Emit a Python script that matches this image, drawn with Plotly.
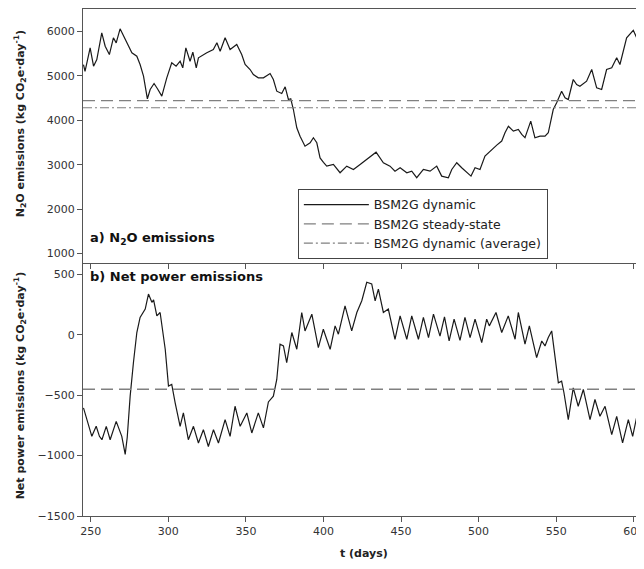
import plotly.graph_objects as go

# ---- data ----
t_n2o = [245.3, 246.3, 249.6, 251.8, 253.9, 257.1, 259.3, 262.0, 264.6, 266.4,
         268.9, 272.2, 276.5, 279.7, 281.8, 284.0, 286.5, 288.3, 290.8, 293.0,
         295.8, 299.0, 302.2, 305.0, 307.6, 309.3, 311.3, 314.0, 315.8, 318.0,
         319.4, 324.8, 329.0, 331.3, 333.4, 336.6, 339.8, 344.1, 347.3, 349.5,
         352.7, 354.8, 358.0, 361.3, 365.6, 367.7, 369.9, 373.1, 375.3, 377.4,
         378.9, 380.6, 382.8, 384.9, 388.1, 391.4, 393.5, 395.7, 397.8, 400.0,
         402.1, 406.4, 410.7, 415.0, 419.3, 423.6, 427.9, 433.9, 438.6, 442.9,
         446.1, 449.4, 453.7, 456.9, 460.1, 464.4, 468.7, 473.0, 476.2, 480.5,
         482.7, 485.9, 489.1, 492.3, 495.1, 497.7, 500.9, 504.1, 508.4, 511.7,
         514.9, 517.0, 519.2, 522.4, 525.6, 527.8, 529.9, 533.6, 536.3, 539.6,
         542.8, 544.9, 548.1, 550.3, 553.5, 555.7, 557.8, 561.0, 563.2, 565.3,
         569.6, 572.9, 576.1, 579.3, 582.5, 585.8, 589.0, 591.1, 595.4, 599.7,
         602.9, 606.6]
n2o = [5250, 5100, 5627, 5214, 5364, 5964, 5663, 5476, 5852, 5739,
       6054, 5814, 5515, 5438, 5252, 4989, 4481, 4690, 4825, 4706,
       4540, 4953, 5290, 5214, 5326, 5178, 5627, 5326, 5528, 5178,
       5402, 5515, 5589, 5739, 5551, 5852, 5589, 5701, 5476, 5252,
       5139, 5027, 4953, 4953, 5050, 4915, 4652, 4600, 4750, 4465,
       4481, 4240, 3830, 3641, 3416, 3492, 3605, 3492, 3150, 3050,
       2967, 3005, 2818, 2967, 2892, 3005, 3117, 3281, 3043, 2967,
       2854, 2931, 2818, 2854, 2706, 2892, 2854, 2967, 2742, 2706,
       2892, 3043, 2931, 2818, 2742, 2931, 2892, 3191, 3342, 3440,
       3530, 3717, 3865, 3753, 3791, 3679, 3605, 3978, 3605, 3641,
       3641, 3717, 4240, 4391, 4652, 4503, 4465, 4915, 4802, 4764,
       4876, 5139, 4728, 4690, 5139, 5178, 5402, 5252, 5852, 6022,
       5775, 5701]

t_power = [245.3, 248.5, 250.7, 253.5, 255.6, 257.2, 260.0, 262.5, 266.4, 270.0,
           272.2, 273.5, 275.4, 277.5, 279.7, 281.8, 285.1, 287.2, 289.4, 290.5,
           292.6, 294.7, 298.0, 300.1, 302.2, 304.4, 307.6, 309.7, 312.9, 316.2,
           319.4, 322.6, 325.8, 329.1, 332.3, 336.6, 339.8, 343.0, 346.3, 350.6,
           353.8, 358.0, 361.3, 364.5, 367.7, 369.9, 372.0, 374.2, 376.3, 379.6,
           382.8, 386.0, 388.1, 392.5, 396.7, 399.9, 404.3, 407.5, 409.6, 413.9,
           418.2, 421.5, 424.7, 427.9, 431.1, 433.3, 435.4, 438.6, 441.8, 446.1,
           449.4, 453.7, 456.9, 461.2, 464.4, 467.7, 470.9, 475.1, 478.0, 481.0,
           484.2, 488.0, 491.2, 494.5, 497.7, 502.0, 505.2, 506.9, 511.2, 514.9,
           519.1, 523.5, 525.6, 529.9, 532.7, 537.4, 540.7, 542.8, 544.9, 547.1,
           549.2, 551.4, 553.5, 555.0, 557.8, 561.0, 564.2, 567.5, 571.8, 575.0,
           578.2, 581.5, 585.8, 589.0, 592.8, 596.5, 599.3, 602.9, 606.6]
power = [-604, -757, -840, -757, -840, -868, -757, -868, -716, -840,
         -990, -850, -507, -230, 20, 145, 214, 339, 270, 290,
         158, 186, -119, -424, -410, -562, -757, -646, -868, -757,
         -895, -785, -924, -785, -895, -701, -840, -591, -757, -646,
         -812, -646, -770, -555, -507, -369, -77, -91, -230, 20,
         -119, 186, 33, 172, -105, 47, -119, 75, 6, 241,
         33, 186, 283, 436, 422, 283, 380, 186, 214, -36,
         158, -36, 158, -36, 145, -22, 172, -10, 150, -50,
         131, -45, 145, -22, 131, -63, 131, 75, 186, 20,
         158, -36, 186, -77, 75, -188, -50, -91, -22, 33,
         -202, -396, -383, -479, -701, -438, -591, -452, -701, -535,
         -674, -591, -826, -674, -895, -701, -840, -618, -757]

t_span = [245.0, 606.6]
n2o_steady = 4440
n2o_dyn_avg = 4280
power_steady = -450

n2o_ticks = [1000, 2000, 3000, 4000, 5000, 6000]
power_ticks = [-1500, -1000, -500, 0, 500]
t_ticks = [250, 300, 350, 400, 450, 500, 550, 600]

LINE = '#1a1a1a'
REF = '#808080'
AX = '#555555'
FONT = 'DejaVu Sans, Arial, sans-serif'

fig = go.Figure()
fig.add_trace(go.Scatter(x=t_n2o, y=n2o, mode='lines', name='BSM2G dynamic',
                         line=dict(color=LINE, width=1.2), xaxis='x2', yaxis='y2'))
fig.add_trace(go.Scatter(x=t_span, y=[n2o_steady] * 2, mode='lines', name='BSM2G steady-state',
                         line=dict(color=REF, width=1.3, dash='12px,6px'), xaxis='x2', yaxis='y2'))
fig.add_trace(go.Scatter(x=t_span, y=[n2o_dyn_avg] * 2, mode='lines', name='BSM2G dynamic (average)',
                         line=dict(color=REF, width=1.1, dash='9px,3px,2px,3px'), xaxis='x2', yaxis='y2'))
fig.add_trace(go.Scatter(x=t_power, y=power, mode='lines', showlegend=False,
                         line=dict(color=LINE, width=1.2), xaxis='x', yaxis='y'))
fig.add_trace(go.Scatter(x=t_span, y=[power_steady] * 2, mode='lines', showlegend=False,
                         line=dict(color=REF, width=1.3, dash='12px,6px'), xaxis='x', yaxis='y'))

axis_common = dict(showgrid=False, zeroline=False, showline=True, linecolor=AX, linewidth=1,
                   ticks='outside', ticklen=5, tickcolor=AX, tickwidth=1, automargin=False,
                   ticklabeloverflow='allow',
                   tickfont=dict(family=FONT, size=11, color='#333333'))

# page body has an 8px margin, so the figure is sized to fill the rest of the window
fig.update_layout(
    width=636, height=561,
    margin=dict(l=75, r=0, t=1, b=53),
    paper_bgcolor='white', plot_bgcolor='white',
    font=dict(family=FONT, size=12, color='#222222'),
    xaxis=dict(axis_common, range=t_span, tickvals=t_ticks, anchor='y', domain=[0, 1]),
    yaxis=dict(axis_common, range=[-1500, 600], tickvals=power_ticks, domain=[0, 0.5], anchor='x'),
    xaxis2=dict(axis_common, range=t_span, tickvals=t_ticks, showticklabels=False,
                anchor='y2', matches='x', mirror=True),
    yaxis2=dict(axis_common, range=[800, 6500], tickvals=n2o_ticks, domain=[0.5, 1], anchor='x2'),
    legend=dict(x=0.383, y=0.645, xanchor='left', yanchor='top', xref='paper', yref='paper',
                bordercolor='#444444', borderwidth=1, bgcolor='white',
                font=dict(family=FONT, size=12.5, color='#222222'), tracegroupgap=0,
                itemwidth=65),
    showlegend=True,
)

annos = [
    dict(text='<b>N<sub>2</sub>O emissions (kg CO<sub>2</sub>e·day<sup>-1</sup>)</b>',
         x=-0.112, y=0.773, textangle=-90),
    dict(text='<b>Net power emissions (kg CO<sub>2</sub>e·day<sup>-1</sup>)</b>',
         x=-0.112, y=0.258, textangle=-90),
    dict(text='<b>t (days)</b>', x=0.5, y=-0.073),
]
for a in annos:
    fig.add_annotation(xref='paper', yref='paper', showarrow=False, xanchor='center', yanchor='middle',
                       font=dict(family=FONT, size=11, color='#222222'), **a)

fig.add_annotation(xref='paper', yref='paper', showarrow=False, xanchor='left', yanchor='middle',
                   x=0.009, y=0.548, text='<b>a) N<sub>2</sub>O emissions</b>',
                   font=dict(family=FONT, size=13, color='#111111'))
fig.add_annotation(xref='paper', yref='paper', showarrow=False, xanchor='left', yanchor='middle',
                   x=0.009, y=0.472, text='<b>b) Net power emissions</b>',
                   font=dict(family=FONT, size=13, color='#111111'))

fig.write_html('out.html')
